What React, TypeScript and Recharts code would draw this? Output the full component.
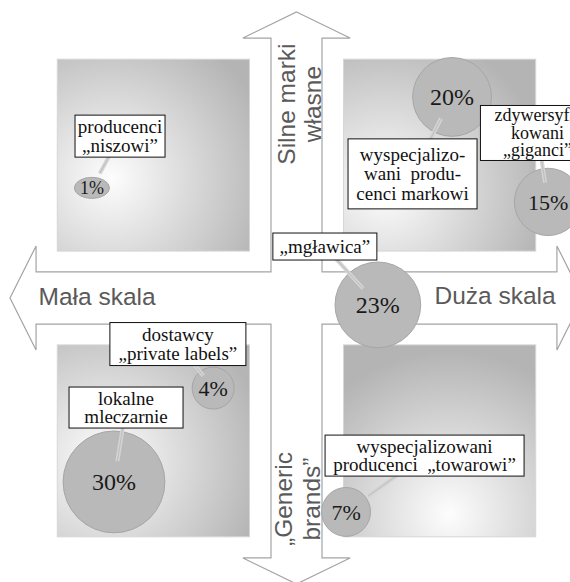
import { ScatterChart, Scatter, XAxis, YAxis, ZAxis, ReferenceArea } from 'recharts';

// segmenty rynku: udział (%), pozycja na osi skali (-100..100) i siły marki (-100..100)
const segmentNames = ['niszowi', 'markowi', 'giganci', 'mglawica', 'private', 'lokalne', 'towarowi'];
const marketShare = [1, 20, 15, 23, 4, 30, 7];
const scalePos = [-71.4, 54.3, 87.8, 28.4, -29.1, -63.7, 17.3];
const brandPos = [38.5, 70.3, 33.6, -2.4, -31.5, -64.3, -74.8];
const segmentLabels = [
  ['producenci', '„niszowi”'],
  ['wyspecjalizo-', 'wani  produ-', 'cenci markowi'],
  ['zdywersyfi-', 'kowani', '„giganci”'],
  ['„mgławica”'],
  ['dostawcy', '„private labels”'],
  ['lokalne', 'mleczarnie'],
  ['wyspecjalizowani', 'producenci  „towarowi”'],
];

// where the label boxes sit (axis units) and how big they are (px)
const labelBoxes = [
  { x: -61.6, y: 56.6, w: 90, h: 42, lh: 18.5, fs: 19 },
  { x: 40.5, y: 43.4, w: 129, h: 70, lh: 19.5, fs: 19 },
  { x: 84.1, y: 57.7, w: 114, h: 55, lh: 17.5, fs: 18 },
  { x: 9.9, y: 18.0, w: 104, h: 27, lh: 18, fs: 19 },
  { x: -41.4, y: -16.1, w: 136, h: 43, lh: 19, fs: 19 },
  { x: -59.5, y: -38.3, w: 114, h: 41, lh: 18.5, fs: 19 },
  { x: 44.7, y: -55.1, w: 199, h: 41, lh: 18.5, fs: 19 },
];

const quadrants = [
  { id: 'tl', x1: -83.5, x2: -16.4, y1: 16.4, y2: 83.5, gx: 0.28, gy: 0.62 },
  { id: 'tr', x1: 16.4, x2: 83.5, y1: 16.4, y2: 83.5, gx: 0.22, gy: 0.68 },
  { id: 'bl', x1: -83.5, x2: -16.4, y1: -83.5, y2: -16.4, gx: 0.25, gy: 0.6 },
  { id: 'br', x1: 16.4, x2: 83.5, y1: -83.5, y2: -16.4, gx: 0.55, gy: 0.88 },
];

const bubbles = segmentNames.map((name, i) => ({
  name,
  x: scalePos[i],
  y: brandPos[i],
  share: marketShare[i],
}));

const labels = labelBoxes.map((b, i) => ({
  ...b,
  lines: segmentLabels[i],
  bx: scalePos[i],
  by: brandPos[i],
}));

const W = 600;
const H = 600;
const margin = { top: 12, right: 17, bottom: 16, left: 10 };
const PXU = (W - margin.left - margin.right) / 200;
const PYU = (H - margin.top - margin.bottom) / 200;

const serif = "'Liberation Serif', 'Times New Roman', serif";
const sans = "'Liberation Sans', Arial, sans-serif";

// cross shaped double arrow, in axis units
const arrowPts = [
  [0, 100], [18.7, 90.9], [8.9, 90.9], [8.9, 9.1], [90.9, 9.1], [90.9, 18.2],
  [100, 0], [90.9, -18.2], [90.9, -9.1], [8.9, -9.1], [8.9, -90.9], [18.7, -90.9],
  [0, -100], [-18.7, -90.9], [-8.9, -90.9], [-8.9, -9.1], [-90.9, -9.1], [-90.9, -18.2],
  [-100, 0], [-90.9, 18.2], [-90.9, 9.1], [-8.9, 9.1], [-8.9, 90.9], [-18.7, 90.9],
];

function ArrowShape(props: any) {
  const { x, y, width, height } = props;
  const px = (u: number) => x + ((u + 100) / 200) * width;
  const py = (v: number) => y + ((100 - v) / 200) * height;
  const pts = arrowPts.map(([u, v]) => `${px(u)},${py(v)}`).join(' ');
  const txt = { style: { fontFamily: sans }, fontSize: 24.5, fill: '#5a5a5a' };
  return (
    <g>
      <polygon points={pts} fill="#fff" stroke="#a4a4a4" strokeWidth={1.2} />
      <text x={px(-69.6)} y={py(-2.4)} textAnchor="middle" {...txt}>Mała skala</text>
      <text x={px(69.3)} y={py(-2.1)} textAnchor="middle" {...txt}>Duża skala</text>
      <g transform={`translate(${px(0.9)},${py(67.8)}) rotate(-90)`}>
        <text x={0} y={-13 + 8.5} textAnchor="middle" {...txt}>Silne marki</text>
        <text x={0} y={13 + 8.5} textAnchor="middle" {...txt}>własne</text>
      </g>
      <g transform={`translate(${px(0.2)},${py(-70.3)}) rotate(-90)`}>
        <text x={0} y={-14 + 8.5} textAnchor="middle" {...txt}>„Generic</text>
        <text x={0} y={14 + 8.5} textAnchor="middle" {...txt}>brands”</text>
      </g>
    </g>
  );
}

function GradientSquare(props: any) {
  const { x, y, width, height, q } = props;
  const gid = `grad-${q.id}`;
  return (
    <g>
      <defs>
        <radialGradient id={gid} cx={q.gx} cy={q.gy} r={0.85}>
          <stop offset="0" stopColor="#fdfdfd" />
          <stop offset="1" stopColor="#b4b4b4" />
        </radialGradient>
      </defs>
      <rect x={x} y={y} width={width} height={height} fill={`url(#${gid})`} stroke="#d6d6d6" strokeWidth={1} />
    </g>
  );
}

function Bubble(props: any) {
  const { cx, cy, payload } = props;
  // ZAxis range is given as radius
  const r = props.size ?? Math.PI * (props.width / 2) ** 2;
  // the smallest segment is drawn as a flat ellipse in the original
  const ry = payload.share <= 1 ? r * 0.6 : r;
  const fs = payload.share <= 1 ? 18 : payload.share >= 20 ? 24 : 22;
  return (
    <g>
      <ellipse cx={cx} cy={cy} rx={r} ry={ry} fill="#b9b9b9" stroke="#a6a6a6" strokeWidth={1} />
      <text x={cx} y={cy + fs * 0.35} textAnchor="middle" style={{ fontFamily: serif }} fontSize={fs} fill="#1a1a1a">
        {payload.share}%
      </text>
    </g>
  );
}

function LabelBox(props: any) {
  const { cx, cy, payload } = props;
  const { w, h, lh, fs, lines } = payload;
  const bx = cx + (payload.bx - payload.x) * PXU;
  const by = cy - (payload.by - payload.y) * PYU;
  const tx = bx + (cx - bx) * 0.28;
  const ty = by + (cy - by) * 0.28;
  const top = cy - ((lines.length - 1) * lh) / 2;
  return (
    <g>
      <line x1={cx} y1={cy} x2={tx} y2={ty} stroke="#d4d4d4" strokeWidth={4} />
      <line x1={cx} y1={cy} x2={tx} y2={ty} stroke="#bdbdbd" strokeWidth={1} />
      <rect x={cx - w / 2} y={cy - h / 2} width={w} height={h} fill="#fff" stroke="#111" strokeWidth={1} />
      <text textAnchor="middle" fontSize={fs} fill="#111" style={{ fontFamily: serif, whiteSpace: 'pre' }}>
        {lines.map((l: string, i: number) => (
          <tspan key={i} x={cx} y={top + i * lh + fs * 0.33}>{l}</tspan>
        ))}
      </text>
    </g>
  );
}

export default function App() {
  return (
    <div style={{ position: 'fixed', left: 0, top: 0, width: 570, height: 582, overflow: 'hidden', background: '#fff' }}>
      <ScatterChart width={W} height={H} margin={margin}>
        <XAxis type="number" dataKey="x" domain={[-100, 100]} allowDataOverflow hide />
        <YAxis type="number" dataKey="y" domain={[-100, 100]} allowDataOverflow hide />
        <ZAxis type="number" dataKey="share" domain={[0, 30]} range={[16.4, 50.9]} />
        <ReferenceArea x1={-100} x2={100} y1={-100} y2={100} ifOverflow="visible" shape={(p: any) => <ArrowShape {...p} />} />
        {quadrants.map((q) => (
          <ReferenceArea
            key={q.id}
            x1={q.x1}
            x2={q.x2}
            y1={q.y1}
            y2={q.y2}
            ifOverflow="visible"
            shape={(p: any) => <GradientSquare {...p} q={q} />}
          />
        ))}
        <Scatter data={bubbles} isAnimationActive={false} shape={(p: any) => <Bubble {...p} />} />
        <Scatter data={labels} isAnimationActive={false} shape={(p: any) => <LabelBox {...p} />} />
      </ScatterChart>
    </div>
  );
}
